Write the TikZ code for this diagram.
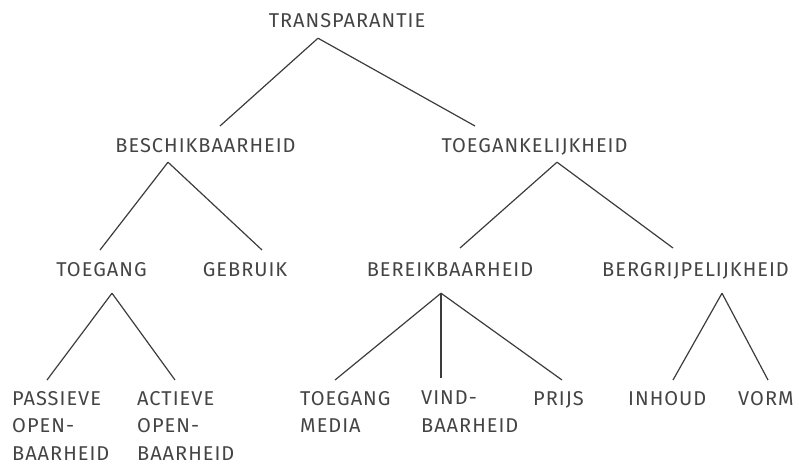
\documentclass[tikz,border=0pt]{standalone}
\usepackage{fontspec}
\setmainfont[LetterSpace=5]{Fira Sans}
\definecolor{inkgray}{HTML}{444444}
\definecolor{linegray}{HTML}{3C3C3C}
\begin{document}
\begin{tikzpicture}[x=1pt,y=-1pt,
  label/.style={inner sep=0pt, text height=13.8pt, text depth=0pt,
    text=inkgray, font={\fontsize{20}{28}\selectfont}},
  mid/.style={label, anchor=base},
  leaf/.style={inner sep=0pt, anchor=north west, align=left,
    text=inkgray, font={\fontsize{20}{27.5}\selectfont}},
  branch/.style={draw=linegray, line width=1.2pt}]
\useasboundingbox (0,0) rectangle (799,465);

% level 1 and 2
\node[mid] (top) at (347,28) {TRANSPARANTIE};
\node[mid] (besch) at (205.5,153) {BESCHIKBAARHEID};
\node[mid] (toeg) at (534.5,153) {TOEGANKELIJKHEID};

% level 3
\node[mid] (toegang) at (101.5,276) {TOEGANG};
\node[mid] (gebruik) at (245,276) {GEBRUIK};
\node[mid] (bereik) at (450,276) {BEREIKBAARHEID};
\node[mid] (begrip) at (695.5,276) {BERGRIJPELIJKHEID};

% leaves
\node[leaf] (passief) at (12,391) {PASSIEVE\\OPEN-\\BAARHEID};
\node[leaf] (actief) at (137,391) {ACTIEVE\\OPEN-\\BAARHEID};
\node[leaf] (media) at (300,391) {TOEGANG\\MEDIA};
\node[leaf] (vind) at (421,391) {VIND-\\BAARHEID};
\node[leaf] (prijs) at (533,391) {PRIJS};
\node[leaf] (inhoud) at (628,391) {INHOUD};
\node[leaf] (vorm) at (738,391) {VORM};

% branches
\draw[branch] ([shift={(-29,10)}]top.south) -- ([shift={(14.5,-13)}]besch.north);
\draw[branch] ([shift={(-29,10)}]top.south) -- ([shift={(-59.5,-13)}]toeg.north);

\draw[branch] ([shift={(-37.5,9)}]besch.south) -- ([shift={(-1.5,-12)}]toegang.north);
\draw[branch] ([shift={(-37.5,9)}]besch.south) -- ([shift={(17,-12)}]gebruik.north);

\draw[branch] ([shift={(22.5,9)}]toeg.south) -- ([shift={(10,-14)}]bereik.north);
\draw[branch] ([shift={(22.5,9)}]toeg.south) -- ([shift={(-22.5,-14)}]begrip.north);

\draw[branch] ([shift={(10.5,17)}]toegang.south) -- ([shift={(35,-11)}]passief.north west);
\draw[branch] ([shift={(10.5,17)}]toegang.south) -- ([shift={(38,-11)}]actief.north west);

\draw[branch] ([shift={(-9,17)}]bereik.south) -- ([shift={(35,-11)}]media.north west);
\draw[branch] ([shift={(-9,17)}]bereik.south) -- ([shift={(20,-13)}]vind.north west);
\draw[branch] ([shift={(-9,17)}]bereik.south) -- ([shift={(29,-11)}]prijs.north west);

\draw[branch] ([shift={(26.5,17)}]begrip.south) -- ([shift={(45,-11)}]inhoud.north west);
\draw[branch] ([shift={(26.5,17)}]begrip.south) -- ([shift={(30,-11)}]vorm.north west);
\end{tikzpicture}
\end{document}
